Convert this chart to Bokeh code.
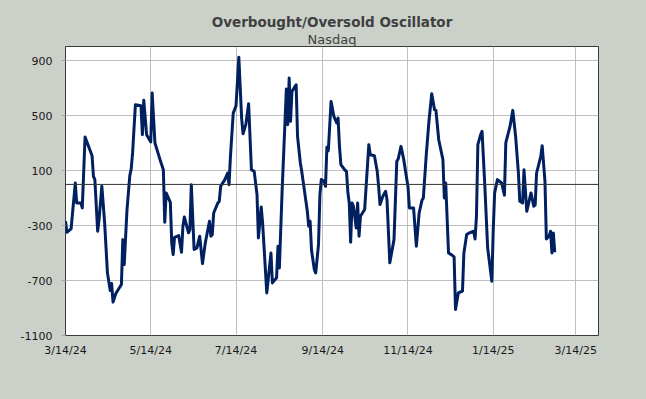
import pandas as pd
from bokeh.plotting import figure
from bokeh.models import Range1d, FixedTicker, Span, Title
from bokeh.embed import file_html
from bokeh.resources import INLINE

title_text = "Overbought/Oversold Oscillator"
subtitle_text = "Nasdaq"

dates = [
    "2024-03-14", "2024-03-15", "2024-03-18", "2024-03-21", "2024-03-22", "2024-03-25", "2024-03-26", "2024-03-28",
    "2024-04-02", "2024-04-03", "2024-04-04", "2024-04-06", "2024-04-07", "2024-04-09", "2024-04-11", "2024-04-13",
    "2024-04-15", "2024-04-16", "2024-04-17", "2024-04-19", "2024-04-23", "2024-04-24", "2024-04-25", "2024-04-27",
    "2024-04-29", "2024-04-30", "2024-05-01", "2024-05-03", "2024-05-07", "2024-05-08", "2024-05-09", "2024-05-11",
    "2024-05-14", "2024-05-15", "2024-05-17", "2024-05-21", "2024-05-23", "2024-05-24", "2024-05-25", "2024-05-28",
    "2024-05-29", "2024-05-30", "2024-05-31", "2024-06-03", "2024-06-05", "2024-06-06", "2024-06-07", "2024-06-10",
    "2024-06-11", "2024-06-12", "2024-06-14", "2024-06-16", "2024-06-18", "2024-06-20", "2024-06-22", "2024-06-25",
    "2024-06-26", "2024-06-27", "2024-06-28", "2024-07-01", "2024-07-02", "2024-07-03", "2024-07-06", "2024-07-08",
    "2024-07-09", "2024-07-10", "2024-07-12", "2024-07-14", "2024-07-16", "2024-07-18", "2024-07-19", "2024-07-21",
    "2024-07-23", "2024-07-25", "2024-07-27", "2024-07-29", "2024-07-30", "2024-08-01", "2024-08-02", "2024-08-05",
    "2024-08-08", "2024-08-09", "2024-08-12", "2024-08-13", "2024-08-14", "2024-08-16", "2024-08-19", "2024-08-20",
    "2024-08-21", "2024-08-22", "2024-08-23", "2024-08-26", "2024-08-27", "2024-08-29", "2024-08-30", "2024-09-03",
    "2024-09-04", "2024-09-05", "2024-09-06", "2024-09-08", "2024-09-09", "2024-09-11", "2024-09-12", "2024-09-13",
    "2024-09-15", "2024-09-16", "2024-09-17", "2024-09-18", "2024-09-20", "2024-09-22", "2024-09-24", "2024-09-25",
    "2024-09-26", "2024-09-27", "2024-09-30", "2024-10-01", "2024-10-02", "2024-10-03", "2024-10-04", "2024-10-05",
    "2024-10-06", "2024-10-08", "2024-10-09", "2024-10-10", "2024-10-11", "2024-10-14", "2024-10-17", "2024-10-18",
    "2024-10-21", "2024-10-23", "2024-10-24", "2024-10-25", "2024-10-27", "2024-10-29", "2024-10-30", "2024-11-01",
    "2024-11-04", "2024-11-06", "2024-11-07", "2024-11-09", "2024-11-11", "2024-11-13", "2024-11-14", "2024-11-15",
    "2024-11-18", "2024-11-20", "2024-11-22", "2024-11-24", "2024-11-25", "2024-11-27", "2024-11-29", "2024-12-01",
    "2024-12-03", "2024-12-04", "2024-12-06", "2024-12-09", "2024-12-10", "2024-12-11", "2024-12-13", "2024-12-15",
    "2024-12-17", "2024-12-18", "2024-12-20", "2024-12-21", "2024-12-23", "2024-12-24", "2024-12-26", "2024-12-28",
    "2024-12-31", "2025-01-01", "2025-01-02", "2025-01-03", "2025-01-05", "2025-01-06", "2025-01-08", "2025-01-10",
    "2025-01-13", "2025-01-14", "2025-01-15", "2025-01-17", "2025-01-20", "2025-01-22", "2025-01-23", "2025-01-26",
    "2025-01-28", "2025-01-30", "2025-02-01", "2025-02-02", "2025-02-04", "2025-02-05", "2025-02-07", "2025-02-10",
    "2025-02-12", "2025-02-13", "2025-02-14", "2025-02-17", "2025-02-18", "2025-02-20", "2025-02-21", "2025-02-23",
    "2025-02-24", "2025-02-25", "2025-02-26", "2025-02-27",
]

oscillator = [
    -268, -348, -324, 10, -135, -135, -171, 345,
    209, 59, 35, -341, -256, -13, -280, -644,
    -773, -722, -857, -794, -729, -402, -584, -184,
    64, 112, 229, 580, 573, 362, 612, 362,
    309, 665, 301, 168, 107, -276, -62, -130,
    -426, -511, -385, -373, -494, -305, -237, -353,
    -329, -2, -474, -462, -377, -576, -426, -268,
    -377, -365, -208, -135, -123, -14, 35, 83,
    -2, 204, 519, 573, 925, 483, 369, 435,
    587, 107, 95, -74, -390, -164, -280, -790,
    -499, -717, -680, -450, -608, -38, 694, 435,
    774, 459, 677, 725, 350, 156, 95, -196,
    -305, -268, -479, -620, -644, -438, -74, 35,
    23, -14, 270, 245, 604, 495, 447, 483,
    277, 144, 103, 95, -57, -135, -421, -135,
    -159, -317, -135, -377, -232, -183, 289, 216,
    209, 95, -14, -147, -87, -50, -111, -571,
    -402, 168, 185, 277, 180, 47, -14, -171,
    -171, -450, -208, -116, -99, 204, 459, 660,
    544, 539, 325, 180, -99, 10, -499, -511,
    -528, -911, -790, -785, -777, -499, -365, -353,
    -341, -397, -232, 289, 362, 386, -14, -462,
    -705, -329, -62, 35, 10, -78, 305, 422,
    539, 350, 83, -123, -135, 107, -196, -62,
    -159, -150, 83, 204, 282, 23, -397, -377,
    -341, -499, -353, -494,
]

x_tick_dates = ["2024-03-14", "2024-05-14", "2024-07-14", "2024-09-14", "2024-11-14", "2025-01-14", "2025-03-14"]
x_tick_labels = ["3/14/24", "5/14/24", "7/14/24", "9/14/24", "11/14/24", "1/14/25", "3/14/25"]
y_ticks = [-1100, -700, -300, 100, 500, 900]
y_tick_labels = ["-1100", "-700", "-300", "100", "500", "900"]

BG = "#CBD0C9"
LINE = "#002060"
TXT = "#404040"

x = pd.to_datetime(dates)
x_start = pd.Timestamp("2024-03-14")
x_end = x_start + pd.Timedelta(days=381.3)

p = figure(
    frame_width=533, frame_height=289,
    min_border_left=65, min_border_right=48, min_border_top=46, min_border_bottom=64,
    x_axis_type="datetime",
    x_range=Range1d(x_start, x_end), y_range=Range1d(-1100, 1004),
    output_backend="svg", toolbar_location=None,
)
p.title.visible = False
p.background_fill_color = "white"
p.border_fill_color = BG
p.outline_line_color = "#3A3A3A"
p.outline_line_width = 1

sub = Title(text=subtitle_text, align="center", text_font="DejaVu Sans", text_font_size="13px",
            text_font_style="normal", text_color=TXT, standoff=0, offset=-3)
ttl = Title(text=title_text, align="center", text_font="DejaVu Sans", text_font_size="13.5px",
            text_font_style="bold", text_color=TXT, standoff=0, offset=-4)
p.add_layout(sub, "above")
p.add_layout(ttl, "above")

x_tick_ms = [pd.Timestamp(d).value / 1e6 for d in x_tick_dates]
p.xaxis.ticker = FixedTicker(ticks=x_tick_ms)
p.xaxis.major_label_overrides = {t: l for t, l in zip(x_tick_ms, x_tick_labels)}
p.yaxis.ticker = FixedTicker(ticks=y_ticks)
p.yaxis.major_label_overrides = {t: l for t, l in zip(y_ticks, y_tick_labels)}

for ax in (p.xaxis[0], p.yaxis[0]):
    ax.axis_line_color = None
    ax.minor_tick_line_color = None
    ax.major_label_text_font = "DejaVu Sans"
    ax.major_label_text_font_size = "11px"
    ax.major_label_text_color = "#1A1A1A"

p.xaxis.major_tick_line_color = None
p.xaxis.major_tick_out = 0
p.xaxis.major_tick_in = 0
p.xaxis.major_label_standoff = 8
p.yaxis.major_tick_line_color = "#A6A6A6"
p.yaxis.major_tick_out = 4
p.yaxis.major_tick_in = 0
p.yaxis.major_label_standoff = 9

p.xgrid.ticker = FixedTicker(ticks=x_tick_ms)
p.ygrid.ticker = FixedTicker(ticks=y_ticks)
p.grid.grid_line_color = "#BFBFBF"
p.grid.grid_line_width = 1

p.add_layout(Span(location=0, dimension="width", line_color="#333333", line_width=1))

p.line(x, oscillator, line_color=LINE, line_width=3, line_join="round")

html = file_html(p, INLINE)
html = html.replace("<head>", "<head><style>body{background-color:%s;}</style>" % BG, 1)
open("out.html", "w").write(html)
